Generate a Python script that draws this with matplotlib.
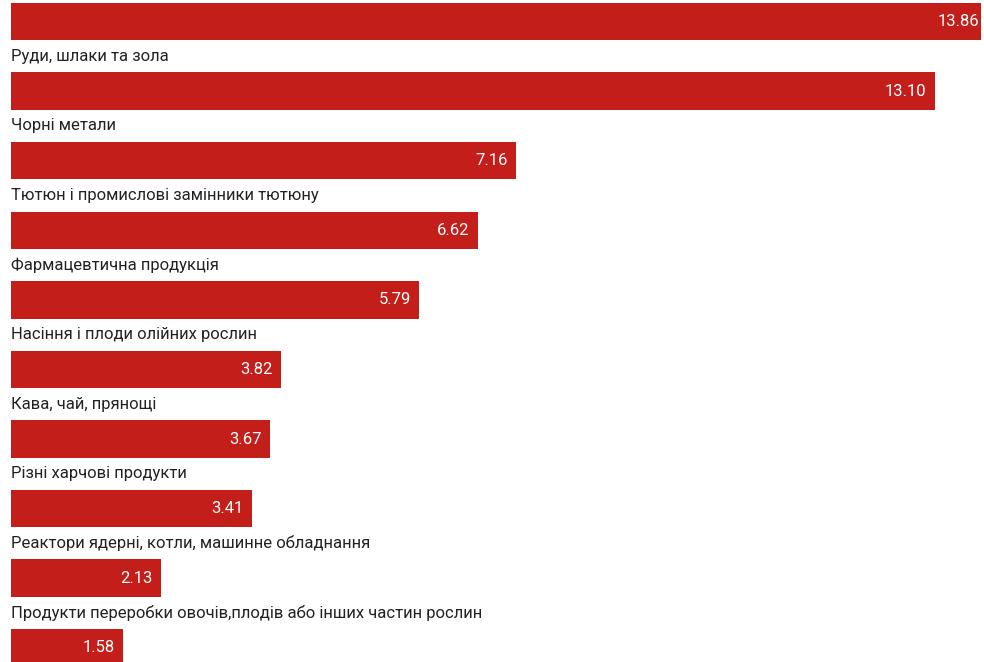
import matplotlib
matplotlib.use("Agg")
import matplotlib.pyplot as plt

# category label is drawn above each bar; the first one is cut off in the source
categories = [
    "",
    "Руди, шлаки та зола",
    "Чорні метали",
    "Тютюн і промислові замінники тютюну",
    "Фармацевтична продукція",
    "Насіння і плоди олійних рослин",
    "Кава, чай, прянощі",
    "Різні харчові продукти",
    "Реактори ядерні, котли, машинне обладнання",
    "Продукти переробки овочів,плодів або інших частин рослин",
]
values = [13.86, 13.10, 7.16, 6.62, 5.79, 3.82, 3.67, 3.41, 2.13, 1.58]

bar_color = "#c41e1a"
plt.rcParams["font.family"] = ["Roboto", "DejaVu Sans"]

fig = plt.figure(figsize=(9.84, 6.62), dpi=100)
# plot area stops a few px short of the right edge, longest bar gets clipped there
ax = fig.add_axes([0, 0, 981 / 984, 1])

xmax = 13.755
pos = list(range(len(values)))
ax.barh(pos, values, height=0.54, color=bar_color, left=0)

for i, (cat, v) in enumerate(zip(categories, values)):
    if v > xmax:
        ax.annotate(f"{v:.2f}", xy=(xmax, i), xytext=(-1.5, 0), textcoords="offset points",
                    ha="right", va="center", color="white", fontsize=12)
    else:
        ax.annotate(f"{v:.2f}", xy=(v, i), xytext=(-6, 0), textcoords="offset points",
                    ha="right", va="center", color="white", fontsize=12)
    if cat:
        ax.text(0, i - 0.5, cat, ha="left", va="center", color="#222222",
                fontsize=12)

ax.set_xlim(-0.16, xmax)
ax.set_ylim(9.203, -0.309)
ax.axis("off")

fig.savefig("out.png", dpi=100, facecolor="white")
